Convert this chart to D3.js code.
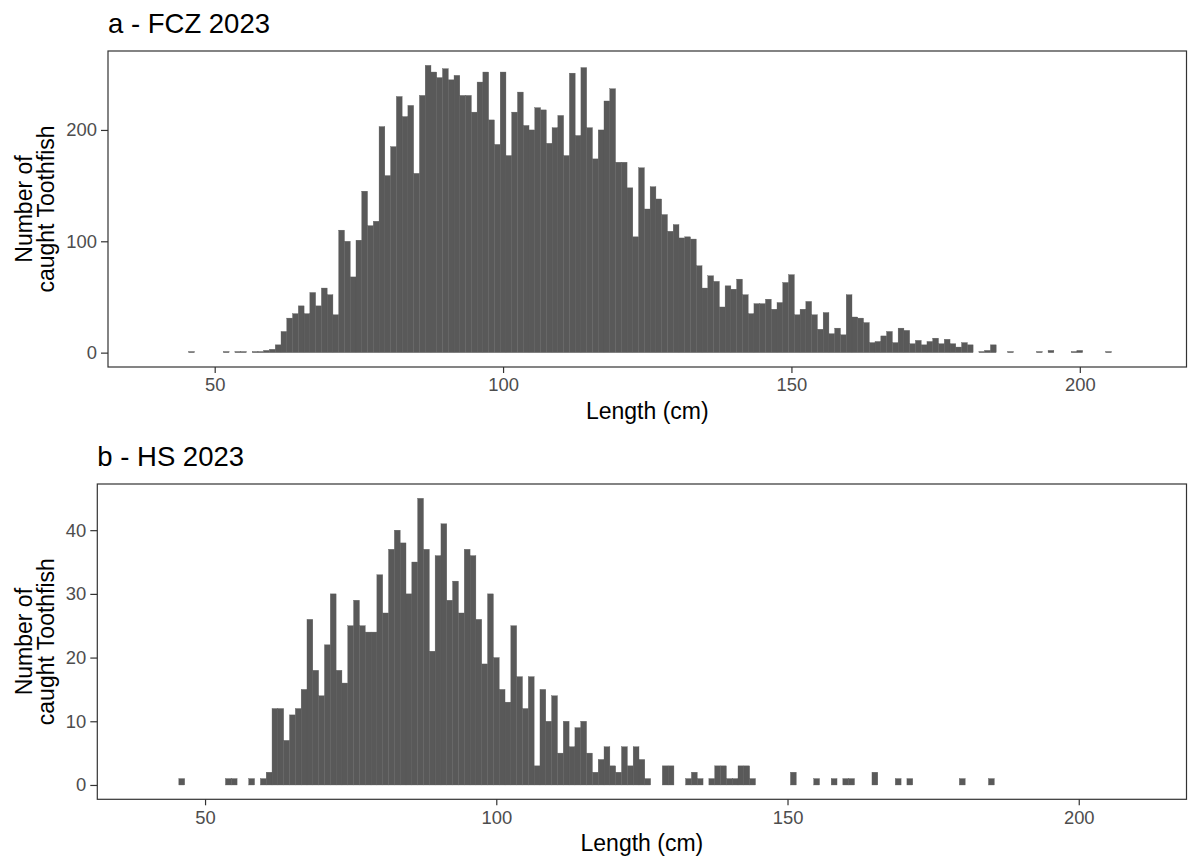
<!DOCTYPE html>
<html>
<head>
<meta charset="utf-8">
<script src="https://cdn.jsdelivr.net/npm/d3@7"></script>
<style>
    html, body { margin: 0; padding: 0; background: #fff; }
    svg { display: block; font-family: "Liberation Sans", Arial, sans-serif; }
    .tick-label { fill: #4d4d4d; font-size: 18.4px; }
    .axis-title { fill: #000; font-size: 23px; }
    .panel-title { fill: #000; font-size: 27.5px; }
</style>
</head>
<body>
<svg id="chart" width="1188" height="859"></svg>
<script>
// length bins (cm, 1 cm wide, centred on the value) and catch counts
const fczLengths = [46, 52, 54, 55, 57, 58, 59, 60, 61, 62, 63, 64, 65, 66, 67, 68, 69, 70, 71, 72,
    73, 74, 75, 76, 77, 78, 79, 80, 81, 82, 83, 84, 85, 86, 87, 88, 89, 90, 91, 92,
    93, 94, 95, 96, 97, 98, 99, 100, 101, 102, 103, 104, 105, 106, 107, 108, 109, 110, 111, 112,
    113, 114, 115, 116, 117, 118, 119, 120, 121, 122, 123, 124, 125, 126, 127, 128, 129, 130, 131, 132,
    133, 134, 135, 136, 137, 138, 139, 140, 141, 142, 143, 144, 145, 146, 147, 148, 149, 150, 151, 152,
    153, 154, 155, 156, 157, 158, 159, 160, 161, 162, 163, 164, 165, 166, 167, 168, 169, 170, 171, 172,
    173, 174, 175, 176, 177, 178, 179, 180, 181, 183, 184, 185, 188, 193, 195, 199, 200, 205];
const fczCounts = [1, 1, 1, 1, 1, 1, 2, 3, 7, 19, 31, 35, 42, 35, 54, 42, 58, 52, 34, 110,
    100, 68, 101, 145, 114, 118, 203, 159, 185, 230, 212, 222, 161, 231, 258, 252, 247, 255, 245, 249,
    231, 231, 216, 243, 252, 209, 187, 252, 177, 216, 234, 204, 200, 220, 218, 188, 202, 213, 177, 251,
    195, 256, 202, 174, 200, 226, 237, 171, 171, 148, 104, 166, 129, 149, 138, 124, 109, 115, 103, 104,
    102, 78, 58, 69, 64, 41, 60, 57, 66, 52, 35, 44, 44, 48, 39, 45, 63, 70, 34, 39,
    46, 34, 21, 36, 17, 22, 16, 52, 32, 31, 27, 9, 10, 15, 19, 9, 22, 20, 8, 11,
    7, 10, 13, 8, 12, 8, 5, 9, 7, 1, 2, 7, 1, 1, 2, 1, 2, 1];

const hsLengths = [46, 54, 55, 58, 60, 61, 62, 63, 64, 65, 66, 67, 68, 69, 70, 71, 72, 73, 74, 75,
    76, 77, 78, 79, 80, 81, 82, 83, 84, 85, 86, 87, 88, 89, 90, 91, 92, 93, 94, 95,
    96, 97, 98, 99, 100, 101, 102, 103, 104, 105, 106, 107, 108, 109, 110, 111, 112, 113, 114, 115,
    116, 117, 118, 119, 120, 121, 122, 123, 124, 125, 126, 129, 130, 133, 134, 135, 137, 138, 139, 140,
    141, 142, 143, 144, 151, 155, 158, 160, 161, 165, 169, 171, 180, 185];
const hsCounts = [1, 1, 1, 1, 1, 2, 12, 12, 7, 11, 12, 15, 26, 18, 14, 22, 30, 18, 16, 25,
    29, 25, 24, 24, 33, 27, 37, 40, 38, 30, 35, 45, 37, 21, 36, 41, 29, 32, 27, 37,
    36, 26, 19, 30, 20, 15, 13, 25, 17, 12, 17, 3, 15, 10, 14, 5, 10, 6, 9, 10,
    5, 2, 4, 6, 3, 2, 6, 3, 6, 4, 1, 3, 3, 1, 2, 1, 1, 3, 3, 1,
    1, 3, 3, 1, 2, 1, 1, 1, 1, 2, 1, 1, 1, 1];

const xTicks = [50, 100, 150, 200];
const fczYTicks = [0, 100, 200];
const hsYTicks = [0, 10, 20, 30, 40];

const X_DOMAIN = [31.5, 218.5];
const BAR_FILL = "#595959";
const FRAME = "#333333";


class HistogramPanel {
    constructor(svg, settings) {
        this.svg = svg;
        this.box = settings.box;
        this.title = settings.title;
        this.lengths = settings.lengths;
        this.counts = settings.counts;
        this.yTicks = settings.yTicks;

        let ymax = d3.max(this.counts),
            pad = ymax * 0.05;

        this.x = d3.scaleLinear().domain(X_DOMAIN).range([this.box.left, this.box.right]);
        this.y = d3.scaleLinear().domain([-pad, ymax + pad]).range([this.box.bottom, this.box.top]);
    }

    render() {
        this.renderBars();
        this.renderAxes();
        this.renderFrame();
        this.renderTexts();
    }

    renderBars() {
        let bins = this.lengths.map((l, i) => ({ length: l, count: this.counts[i] }));

        // thin stroke in the fill colour hides most anti-aliasing seams
        this.svg.append("g")
            .attr("class", "bars")
            .selectAll("rect")
            .data(bins)
            .enter().append("rect")
                .attr("x", (d) => this.x(d.length - 0.5))
                .attr("width", (d) => this.x(d.length + 0.5) - this.x(d.length - 0.5))
                .attr("y", (d) => this.y(d.count))
                .attr("height", (d) => this.y(0) - this.y(d.count))
                .style("fill", BAR_FILL)
                .style("stroke", BAR_FILL)
                .style("stroke-width", 0.35);
    }

    renderAxes() {
        let xAxis = d3.axisBottom(this.x).tickValues(xTicks).tickSize(6).tickPadding(4),
            yAxis = d3.axisLeft(this.y).tickValues(this.yTicks).tickSize(7).tickPadding(4);

        let gx = this.svg.append("g")
            .attr("transform", "translate(0," + this.box.bottom + ")")
            .call(xAxis);
        let gy = this.svg.append("g")
            .attr("transform", "translate(" + this.box.left + ",0)")
            .call(yAxis);

        [gx, gy].forEach((g) => {
            g.select(".domain").remove();
            g.selectAll(".tick line").attr("stroke", FRAME).attr("stroke-width", 1.2);
            g.selectAll(".tick text")
                .attr("class", "tick-label")
                .attr("fill", null)
                .style("font-size", null);
            g.attr("font-family", null).attr("font-size", null);
        });
        gx.selectAll(".tick text").attr("dy", "0.78em");
    }

    renderFrame() {
        this.svg.append("rect")
            .attr("x", this.box.left)
            .attr("y", this.box.top)
            .attr("width", this.box.right - this.box.left)
            .attr("height", this.box.bottom - this.box.top)
            .style("fill", "none")
            .style("stroke", FRAME)
            .style("stroke-width", 1.2);
    }

    renderTexts() {
        let midX = (this.box.left + this.box.right) / 2,
            midY = (this.box.top + this.box.bottom) / 2;

        this.svg.append("text")
            .attr("class", "panel-title")
            .attr("x", this.box.left)
            .attr("y", this.box.top - 18)
            .text(this.title);

        this.svg.append("text")
            .attr("class", "axis-title")
            .attr("x", midX)
            .attr("y", this.box.bottom + 52)
            .attr("text-anchor", "middle")
            .text("Length (cm)");

        let ytitle = this.svg.append("text")
            .attr("class", "axis-title")
            .attr("text-anchor", "middle")
            .attr("transform", "translate(0," + midY + ") rotate(-90)");
        ytitle.append("tspan").attr("x", 0).attr("y", 31.7).text("Number of");
        ytitle.append("tspan").attr("x", 0).attr("y", 53.5).text("caught Toothfish");
    }
}


const svg = d3.select("#chart");

new HistogramPanel(svg, {
    box: { left: 108, right: 1186.5, top: 51, bottom: 367 },
    title: "a - FCZ 2023",
    lengths: fczLengths,
    counts: fczCounts,
    yTicks: fczYTicks
}).render();

new HistogramPanel(svg, {
    box: { left: 97.3, right: 1186.5, top: 484, bottom: 799.3 },
    title: "b - HS 2023",
    lengths: hsLengths,
    counts: hsCounts,
    yTicks: hsYTicks
}).render();
</script>
</body>
</html>
